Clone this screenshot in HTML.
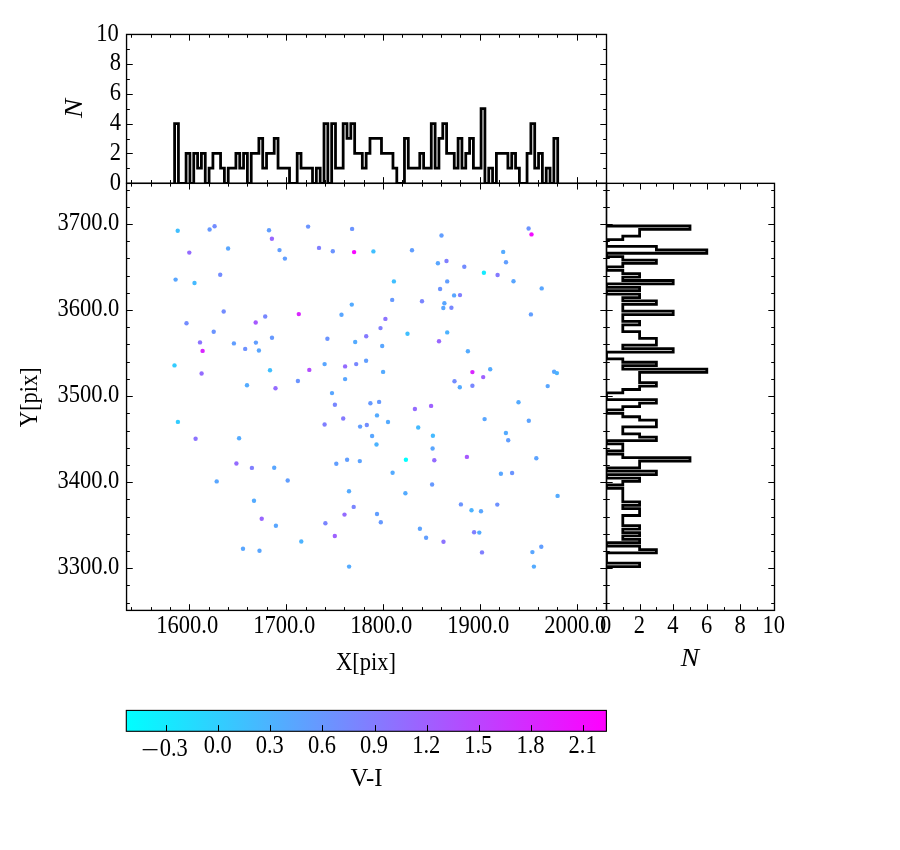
<!DOCTYPE html>
<html lang="en"><head><meta charset="utf-8"><title>Scatter with marginal histograms</title>
<style>html,body{margin:0;padding:0;background:#fff}svg{display:block}</style></head>
<body>
<svg width="900" height="850" viewBox="0 0 900 850">
<defs><linearGradient id="cool" x1="0" x2="1" y1="0" y2="0"><stop offset="0" stop-color="#00ffff"/><stop offset="1" stop-color="#ff00ff"/></linearGradient></defs>
<rect width="900" height="850" fill="#fff"/>
<clipPath id="ct"><rect x="126.55" y="34.45" width="479.95" height="148.90"/></clipPath>
<clipPath id="cr"><rect x="606.50" y="183.35" width="168.00" height="427.05"/></clipPath>
<g id="pts">
<circle cx="177.7" cy="230.8" r="2.2" fill="#40bfff"/>
<circle cx="209.6" cy="229.5" r="2.2" fill="#6699ff"/>
<circle cx="214.6" cy="226.3" r="2.2" fill="#738cff"/>
<circle cx="269.0" cy="230.2" r="2.2" fill="#619eff"/>
<circle cx="271.9" cy="238.7" r="2.2" fill="#9966ff"/>
<circle cx="189.3" cy="252.6" r="2.2" fill="#946bff"/>
<circle cx="228.1" cy="248.5" r="2.2" fill="#59a6ff"/>
<circle cx="279.5" cy="250.1" r="2.2" fill="#619eff"/>
<circle cx="284.9" cy="258.6" r="2.2" fill="#619eff"/>
<circle cx="220.2" cy="274.8" r="2.2" fill="#738cff"/>
<circle cx="175.6" cy="279.6" r="2.2" fill="#59a6ff"/>
<circle cx="194.5" cy="283.0" r="2.2" fill="#45baff"/>
<circle cx="223.7" cy="311.5" r="2.2" fill="#738cff"/>
<circle cx="265.2" cy="316.5" r="2.2" fill="#7887ff"/>
<circle cx="255.7" cy="322.5" r="2.2" fill="#a659ff"/>
<circle cx="186.5" cy="323.2" r="2.2" fill="#738cff"/>
<circle cx="213.7" cy="331.7" r="2.2" fill="#6b94ff"/>
<circle cx="308.1" cy="226.6" r="2.2" fill="#6b94ff"/>
<circle cx="352.1" cy="228.9" r="2.2" fill="#6b94ff"/>
<circle cx="319.0" cy="247.9" r="2.2" fill="#807fff"/>
<circle cx="332.8" cy="251.3" r="2.2" fill="#6b94ff"/>
<circle cx="354.1" cy="252.1" r="2.2" fill="#f708ff"/>
<circle cx="373.4" cy="251.4" r="2.2" fill="#40bfff"/>
<circle cx="412.0" cy="250.2" r="2.2" fill="#619eff"/>
<circle cx="393.9" cy="281.4" r="2.2" fill="#40bfff"/>
<circle cx="392.2" cy="299.9" r="2.2" fill="#6699ff"/>
<circle cx="422.0" cy="301.2" r="2.2" fill="#7a85ff"/>
<circle cx="351.8" cy="304.6" r="2.2" fill="#54abff"/>
<circle cx="298.8" cy="314.1" r="2.2" fill="#d926ff"/>
<circle cx="341.5" cy="314.8" r="2.2" fill="#59a6ff"/>
<circle cx="385.4" cy="318.9" r="2.2" fill="#8c73ff"/>
<circle cx="380.5" cy="328.1" r="2.2" fill="#807fff"/>
<circle cx="441.5" cy="235.5" r="2.2" fill="#619eff"/>
<circle cx="528.6" cy="228.5" r="2.2" fill="#6b94ff"/>
<circle cx="531.5" cy="234.4" r="2.2" fill="#f20dff"/>
<circle cx="503.2" cy="251.9" r="2.2" fill="#54abff"/>
<circle cx="446.5" cy="261.0" r="2.2" fill="#807fff"/>
<circle cx="437.9" cy="263.2" r="2.2" fill="#59a6ff"/>
<circle cx="464.3" cy="266.8" r="2.2" fill="#738cff"/>
<circle cx="506.0" cy="262.3" r="2.2" fill="#619eff"/>
<circle cx="483.9" cy="272.7" r="2.2" fill="#14ebff"/>
<circle cx="497.6" cy="275.0" r="2.2" fill="#857aff"/>
<circle cx="513.5" cy="281.3" r="2.2" fill="#59a6ff"/>
<circle cx="447.2" cy="281.4" r="2.2" fill="#619eff"/>
<circle cx="440.1" cy="289.0" r="2.2" fill="#6b94ff"/>
<circle cx="541.7" cy="288.4" r="2.2" fill="#59a6ff"/>
<circle cx="454.1" cy="295.4" r="2.2" fill="#59a6ff"/>
<circle cx="460.0" cy="295.1" r="2.2" fill="#807fff"/>
<circle cx="444.4" cy="303.3" r="2.2" fill="#59a6ff"/>
<circle cx="443.3" cy="308.0" r="2.2" fill="#59a6ff"/>
<circle cx="451.4" cy="307.7" r="2.2" fill="#7887ff"/>
<circle cx="530.9" cy="314.4" r="2.2" fill="#619eff"/>
<circle cx="447.2" cy="332.4" r="2.2" fill="#4cb3ff"/>
<circle cx="200.0" cy="342.4" r="2.2" fill="#8c73ff"/>
<circle cx="202.6" cy="350.9" r="2.2" fill="#d926ff"/>
<circle cx="233.9" cy="343.4" r="2.2" fill="#619eff"/>
<circle cx="245.2" cy="348.9" r="2.2" fill="#6e91ff"/>
<circle cx="255.9" cy="342.6" r="2.2" fill="#619eff"/>
<circle cx="258.9" cy="350.5" r="2.2" fill="#59a6ff"/>
<circle cx="272.0" cy="337.8" r="2.2" fill="#6699ff"/>
<circle cx="174.5" cy="365.4" r="2.2" fill="#33ccff"/>
<circle cx="201.6" cy="373.5" r="2.2" fill="#946bff"/>
<circle cx="270.0" cy="370.2" r="2.2" fill="#40bfff"/>
<circle cx="247.0" cy="385.2" r="2.2" fill="#54abff"/>
<circle cx="275.5" cy="388.2" r="2.2" fill="#946bff"/>
<circle cx="177.9" cy="421.9" r="2.2" fill="#33ccff"/>
<circle cx="195.6" cy="438.8" r="2.2" fill="#8c73ff"/>
<circle cx="239.1" cy="438.3" r="2.2" fill="#54abff"/>
<circle cx="327.4" cy="338.8" r="2.2" fill="#6b94ff"/>
<circle cx="355.2" cy="342.0" r="2.2" fill="#54abff"/>
<circle cx="366.2" cy="336.2" r="2.2" fill="#857aff"/>
<circle cx="382.2" cy="346.0" r="2.2" fill="#59a6ff"/>
<circle cx="407.5" cy="333.8" r="2.2" fill="#40bfff"/>
<circle cx="324.6" cy="364.1" r="2.2" fill="#59a6ff"/>
<circle cx="309.3" cy="369.9" r="2.2" fill="#b24dff"/>
<circle cx="345.1" cy="366.4" r="2.2" fill="#946bff"/>
<circle cx="356.2" cy="364.1" r="2.2" fill="#7887ff"/>
<circle cx="366.1" cy="360.8" r="2.2" fill="#619eff"/>
<circle cx="383.1" cy="371.9" r="2.2" fill="#54abff"/>
<circle cx="297.9" cy="381.0" r="2.2" fill="#6b94ff"/>
<circle cx="345.1" cy="379.1" r="2.2" fill="#59a6ff"/>
<circle cx="332.0" cy="393.1" r="2.2" fill="#59a6ff"/>
<circle cx="334.9" cy="404.7" r="2.2" fill="#7887ff"/>
<circle cx="370.4" cy="403.2" r="2.2" fill="#6699ff"/>
<circle cx="379.1" cy="401.9" r="2.2" fill="#6699ff"/>
<circle cx="414.9" cy="409.0" r="2.2" fill="#946bff"/>
<circle cx="377.0" cy="415.4" r="2.2" fill="#54abff"/>
<circle cx="343.2" cy="418.5" r="2.2" fill="#857aff"/>
<circle cx="324.6" cy="424.5" r="2.2" fill="#807fff"/>
<circle cx="388.0" cy="422.0" r="2.2" fill="#54abff"/>
<circle cx="360.1" cy="426.6" r="2.2" fill="#619eff"/>
<circle cx="366.8" cy="425.0" r="2.2" fill="#738cff"/>
<circle cx="418.2" cy="427.5" r="2.2" fill="#45baff"/>
<circle cx="372.1" cy="436.0" r="2.2" fill="#59a6ff"/>
<circle cx="376.5" cy="444.5" r="2.2" fill="#4cb3ff"/>
<circle cx="439.0" cy="341.3" r="2.2" fill="#9966ff"/>
<circle cx="467.9" cy="351.3" r="2.2" fill="#54abff"/>
<circle cx="472.4" cy="372.1" r="2.2" fill="#d926ff"/>
<circle cx="490.2" cy="369.3" r="2.2" fill="#54abff"/>
<circle cx="483.2" cy="377.1" r="2.2" fill="#9e61ff"/>
<circle cx="454.5" cy="381.2" r="2.2" fill="#738cff"/>
<circle cx="459.8" cy="387.2" r="2.2" fill="#54abff"/>
<circle cx="472.4" cy="385.8" r="2.2" fill="#7887ff"/>
<circle cx="554.1" cy="371.8" r="2.2" fill="#59a6ff"/>
<circle cx="556.9" cy="373.1" r="2.2" fill="#4cb3ff"/>
<circle cx="547.7" cy="386.1" r="2.2" fill="#59a6ff"/>
<circle cx="431.1" cy="405.9" r="2.2" fill="#9e61ff"/>
<circle cx="518.5" cy="402.3" r="2.2" fill="#54abff"/>
<circle cx="484.6" cy="419.1" r="2.2" fill="#59a6ff"/>
<circle cx="528.8" cy="420.8" r="2.2" fill="#5ca3ff"/>
<circle cx="432.9" cy="435.8" r="2.2" fill="#45baff"/>
<circle cx="505.9" cy="433.0" r="2.2" fill="#54abff"/>
<circle cx="508.2" cy="440.3" r="2.2" fill="#619eff"/>
<circle cx="236.4" cy="463.5" r="2.2" fill="#946bff"/>
<circle cx="251.9" cy="467.9" r="2.2" fill="#807fff"/>
<circle cx="274.2" cy="467.8" r="2.2" fill="#59a6ff"/>
<circle cx="287.7" cy="480.5" r="2.2" fill="#619eff"/>
<circle cx="216.7" cy="481.4" r="2.2" fill="#59a6ff"/>
<circle cx="254.0" cy="500.8" r="2.2" fill="#54abff"/>
<circle cx="261.7" cy="518.7" r="2.2" fill="#9966ff"/>
<circle cx="275.9" cy="525.8" r="2.2" fill="#59a6ff"/>
<circle cx="243.0" cy="548.7" r="2.2" fill="#59a6ff"/>
<circle cx="259.5" cy="550.8" r="2.2" fill="#59a6ff"/>
<circle cx="336.3" cy="463.8" r="2.2" fill="#619eff"/>
<circle cx="347.1" cy="459.8" r="2.2" fill="#619eff"/>
<circle cx="359.8" cy="461.1" r="2.2" fill="#5ca3ff"/>
<circle cx="405.9" cy="459.8" r="2.2" fill="#00ffff"/>
<circle cx="392.6" cy="472.7" r="2.2" fill="#54abff"/>
<circle cx="349.0" cy="491.3" r="2.2" fill="#54abff"/>
<circle cx="405.4" cy="493.2" r="2.2" fill="#54abff"/>
<circle cx="353.7" cy="506.9" r="2.2" fill="#7a85ff"/>
<circle cx="344.5" cy="514.6" r="2.2" fill="#946bff"/>
<circle cx="377.0" cy="514.0" r="2.2" fill="#619eff"/>
<circle cx="325.4" cy="523.3" r="2.2" fill="#7a85ff"/>
<circle cx="380.8" cy="522.2" r="2.2" fill="#6699ff"/>
<circle cx="334.8" cy="536.0" r="2.2" fill="#9e61ff"/>
<circle cx="301.3" cy="541.5" r="2.2" fill="#4cb3ff"/>
<circle cx="419.9" cy="528.8" r="2.2" fill="#5ca3ff"/>
<circle cx="349.1" cy="566.6" r="2.2" fill="#54abff"/>
<circle cx="432.6" cy="448.5" r="2.2" fill="#59a6ff"/>
<circle cx="434.3" cy="460.3" r="2.2" fill="#946bff"/>
<circle cx="466.9" cy="456.9" r="2.2" fill="#a659ff"/>
<circle cx="536.3" cy="458.2" r="2.2" fill="#5ca3ff"/>
<circle cx="500.9" cy="473.8" r="2.2" fill="#59a6ff"/>
<circle cx="512.1" cy="473.0" r="2.2" fill="#6b94ff"/>
<circle cx="432.1" cy="484.5" r="2.2" fill="#6699ff"/>
<circle cx="557.6" cy="495.9" r="2.2" fill="#54abff"/>
<circle cx="460.9" cy="504.4" r="2.2" fill="#6b94ff"/>
<circle cx="471.5" cy="510.2" r="2.2" fill="#4cb3ff"/>
<circle cx="481.0" cy="511.2" r="2.2" fill="#59a6ff"/>
<circle cx="497.3" cy="504.6" r="2.2" fill="#6e91ff"/>
<circle cx="426.1" cy="537.8" r="2.2" fill="#619eff"/>
<circle cx="443.5" cy="541.7" r="2.2" fill="#8c73ff"/>
<circle cx="474.1" cy="532.3" r="2.2" fill="#807fff"/>
<circle cx="479.3" cy="532.6" r="2.2" fill="#54abff"/>
<circle cx="482.0" cy="552.4" r="2.2" fill="#807fff"/>
<circle cx="541.3" cy="546.8" r="2.2" fill="#619eff"/>
<circle cx="532.4" cy="552.1" r="2.2" fill="#59a6ff"/>
<circle cx="533.9" cy="566.6" r="2.2" fill="#54abff"/>
</g>
<path clip-path="url(#ct)" d="M174.60 183.35V123.54H178.43V183.35H182.26V183.35H186.09V153.32H189.92V183.35H193.75V153.32H197.59V168.21H201.42V153.32H205.25V183.35H209.08V168.21H212.91V153.32H216.74V153.32H220.57V168.21H224.40V183.35H228.23V168.21H232.06V168.21H235.90V153.32H239.73V168.21H243.56V153.32H247.39V183.35H251.22V153.32H255.05V153.32H258.88V138.43H262.71V168.21H266.54V153.32H270.38V153.32H274.21V138.43H278.04V168.21H281.87V168.21H285.70V168.21H289.53V183.35H293.36V183.35H297.19V153.32H301.02V168.21H304.85V168.21H308.69V168.21H312.52V183.35H316.35V168.21H320.18V183.35H324.01V123.54H327.84V183.35H331.67V123.54H335.50V168.21H339.33V168.21H343.16V123.54H347.00V138.43H350.83V123.54H354.66V153.32H358.49V153.32H362.32V168.21H366.15V153.32H369.98V138.43H373.81V138.43H377.64V138.43H381.47V153.32H385.31V153.32H389.14V153.32H392.97V168.21H396.80V183.35H400.63V183.35H404.46V138.43H408.29V168.21H412.12V168.21H415.95V168.21H419.78V153.32H423.62V168.21H427.45V168.21H431.28V123.54H435.11V168.21H438.94V138.43H442.77V123.54H446.60V153.32H450.43V153.32H454.26V168.21H458.09V138.43H461.93V168.21H465.76V153.32H469.59V138.43H473.42V168.21H477.25V168.21H481.08V108.65H484.91V183.35H488.74V168.21H492.57V183.35H496.40V153.32H500.24V153.32H504.07V153.32H507.90V168.21H511.73V153.32H515.56V168.21H519.39V183.35H523.22V183.35H527.05V153.32H530.88V123.54H534.71V168.21H538.55V153.32H542.38V183.35H546.21V168.21H550.04V183.35H553.87V138.43H557.70V183.35" fill="none" stroke="#000" stroke-width="2.78" stroke-linejoin="miter"/>
<path clip-path="url(#cr)" d="M606.50 226.00H690.00V229.41H639.60V232.81H639.60V236.22H622.80V239.62H606.50V243.03H606.50V246.44H656.40V249.84H706.80V253.25H606.50V256.65H622.80V260.06H656.40V263.47H622.80V266.87H606.50V270.28H622.80V273.68H639.60V277.09H622.80V280.50H673.20V283.90H606.50V287.31H639.60V290.71H606.50V294.12H639.60V297.53H622.80V300.93H656.40V304.34H622.80V307.74H622.80V311.15H673.20V314.56H622.80V317.96H622.80V321.37H639.60V324.77H622.80V328.18H622.80V331.59H639.60V334.99H639.60V338.40H656.40V341.80H656.40V345.21H622.80V348.62H673.20V352.02H606.50V355.43H606.50V358.83H622.80V362.24H656.40V365.65H622.80V369.05H706.80V372.46H639.60V375.86H639.60V379.27H639.60V382.68H656.40V386.08H639.60V389.49H622.80V392.89H606.50V396.30H606.50V399.71H656.40V403.11H639.60V406.52H622.80V409.92H606.50V413.33H622.80V416.74H639.60V420.14H656.40V423.55H656.40V426.95H622.80V430.36H622.80V433.77H639.60V437.17H656.40V440.58H606.50V443.98H622.80V447.39H622.80V450.80H606.50V454.20H622.80V457.61H690.00V461.01H639.60V464.42H639.60V467.83H606.50V471.23H656.40V474.64H606.50V478.04H639.60V481.45H622.80V484.86H606.50V488.26H622.80V491.67H622.80V495.07H622.80V498.48H622.80V501.89H639.60V505.29H622.80V508.70H639.60V512.10H639.60V515.51H622.80V518.92H622.80V522.32H622.80V525.73H639.60V529.13H622.80V532.54H639.60V535.95H622.80V539.35H639.60V542.76H606.50V546.16H639.60V549.57H656.40V552.98H606.50V556.38H606.50V559.79H606.50V563.19H639.60V566.60H606.50" fill="none" stroke="#000" stroke-width="2.78" stroke-linejoin="miter"/>
<path d="M131.50 610.40V607.10M131.50 183.35V186.65M131.50 183.35V180.05M131.50 34.45V37.75M151.50 610.40V607.10M151.50 183.35V186.65M151.50 183.35V180.05M151.50 34.45V37.75M170.50 610.40V607.10M170.50 183.35V186.65M170.50 183.35V180.05M170.50 34.45V37.75M189.50 610.40V604.20M189.50 183.35V189.55M189.50 183.35V177.15M189.50 34.45V40.65M209.50 610.40V607.10M209.50 183.35V186.65M209.50 183.35V180.05M209.50 34.45V37.75M228.50 610.40V607.10M228.50 183.35V186.65M228.50 183.35V180.05M228.50 34.45V37.75M247.50 610.40V607.10M247.50 183.35V186.65M247.50 183.35V180.05M247.50 34.45V37.75M267.50 610.40V607.10M267.50 183.35V186.65M267.50 183.35V180.05M267.50 34.45V37.75M286.50 610.40V604.20M286.50 183.35V189.55M286.50 183.35V177.15M286.50 34.45V40.65M306.50 610.40V607.10M306.50 183.35V186.65M306.50 183.35V180.05M306.50 34.45V37.75M325.50 610.40V607.10M325.50 183.35V186.65M325.50 183.35V180.05M325.50 34.45V37.75M344.50 610.40V607.10M344.50 183.35V186.65M344.50 183.35V180.05M344.50 34.45V37.75M364.50 610.40V607.10M364.50 183.35V186.65M364.50 183.35V180.05M364.50 34.45V37.75M383.50 610.40V604.20M383.50 183.35V189.55M383.50 183.35V177.15M383.50 34.45V40.65M402.50 610.40V607.10M402.50 183.35V186.65M402.50 183.35V180.05M402.50 34.45V37.75M422.50 610.40V607.10M422.50 183.35V186.65M422.50 183.35V180.05M422.50 34.45V37.75M441.50 610.40V607.10M441.50 183.35V186.65M441.50 183.35V180.05M441.50 34.45V37.75M460.50 610.40V607.10M460.50 183.35V186.65M460.50 183.35V180.05M460.50 34.45V37.75M480.50 610.40V604.20M480.50 183.35V189.55M480.50 183.35V177.15M480.50 34.45V40.65M499.50 610.40V607.10M499.50 183.35V186.65M499.50 183.35V180.05M499.50 34.45V37.75M519.50 610.40V607.10M519.50 183.35V186.65M519.50 183.35V180.05M519.50 34.45V37.75M538.50 610.40V607.10M538.50 183.35V186.65M538.50 183.35V180.05M538.50 34.45V37.75M557.50 610.40V607.10M557.50 183.35V186.65M557.50 183.35V180.05M557.50 34.45V37.75M577.50 610.40V604.20M577.50 183.35V189.55M577.50 183.35V177.15M577.50 34.45V40.65M596.50 610.40V607.10M596.50 183.35V186.65M596.50 183.35V180.05M596.50 34.45V37.75M126.55 603.50H129.85M606.50 603.50H603.20M606.50 603.50H609.80M774.50 603.50H771.20M126.55 585.50H129.85M606.50 585.50H603.20M606.50 585.50H609.80M774.50 585.50H771.20M126.55 568.50H132.75M606.50 568.50H600.30M606.50 568.50H612.70M774.50 568.50H768.30M126.55 551.50H129.85M606.50 551.50H603.20M606.50 551.50H609.80M774.50 551.50H771.20M126.55 534.50H129.85M606.50 534.50H603.20M606.50 534.50H609.80M774.50 534.50H771.20M126.55 517.50H129.85M606.50 517.50H603.20M606.50 517.50H609.80M774.50 517.50H771.20M126.55 499.50H129.85M606.50 499.50H603.20M606.50 499.50H609.80M774.50 499.50H771.20M126.55 482.50H132.75M606.50 482.50H600.30M606.50 482.50H612.70M774.50 482.50H768.30M126.55 465.50H129.85M606.50 465.50H603.20M606.50 465.50H609.80M774.50 465.50H771.20M126.55 448.50H129.85M606.50 448.50H603.20M606.50 448.50H609.80M774.50 448.50H771.20M126.55 431.50H129.85M606.50 431.50H603.20M606.50 431.50H609.80M774.50 431.50H771.20M126.55 413.50H129.85M606.50 413.50H603.20M606.50 413.50H609.80M774.50 413.50H771.20M126.55 396.50H132.75M606.50 396.50H600.30M606.50 396.50H612.70M774.50 396.50H768.30M126.55 379.50H129.85M606.50 379.50H603.20M606.50 379.50H609.80M774.50 379.50H771.20M126.55 362.50H129.85M606.50 362.50H603.20M606.50 362.50H609.80M774.50 362.50H771.20M126.55 344.50H129.85M606.50 344.50H603.20M606.50 344.50H609.80M774.50 344.50H771.20M126.55 327.50H129.85M606.50 327.50H603.20M606.50 327.50H609.80M774.50 327.50H771.20M126.55 310.50H132.75M606.50 310.50H600.30M606.50 310.50H612.70M774.50 310.50H768.30M126.55 293.50H129.85M606.50 293.50H603.20M606.50 293.50H609.80M774.50 293.50H771.20M126.55 276.50H129.85M606.50 276.50H603.20M606.50 276.50H609.80M774.50 276.50H771.20M126.55 258.50H129.85M606.50 258.50H603.20M606.50 258.50H609.80M774.50 258.50H771.20M126.55 241.50H129.85M606.50 241.50H603.20M606.50 241.50H609.80M774.50 241.50H771.20M126.55 224.50H132.75M606.50 224.50H600.30M606.50 224.50H612.70M774.50 224.50H768.30M126.55 207.50H129.85M606.50 207.50H603.20M606.50 207.50H609.80M774.50 207.50H771.20M126.55 190.50H129.85M606.50 190.50H603.20M606.50 190.50H609.80M774.50 190.50H771.20M126.55 168.50H129.85M606.50 168.50H603.20M126.55 153.50H132.75M606.50 153.50H600.30M126.55 139.50H129.85M606.50 139.50H603.20M126.55 124.50H132.75M606.50 124.50H600.30M126.55 109.50H129.85M606.50 109.50H603.20M126.55 94.50H132.75M606.50 94.50H600.30M126.55 79.50H129.85M606.50 79.50H603.20M126.55 64.50H132.75M606.50 64.50H600.30M126.55 49.50H129.85M606.50 49.50H603.20M623.50 610.40V607.10M623.50 183.35V186.65M640.50 610.40V604.20M640.50 183.35V189.55M656.50 610.40V607.10M656.50 183.35V186.65M673.50 610.40V604.20M673.50 183.35V189.55M690.50 610.40V607.10M690.50 183.35V186.65M707.50 610.40V604.20M707.50 183.35V189.55M724.50 610.40V607.10M724.50 183.35V186.65M740.50 610.40V604.20M740.50 183.35V189.55M757.50 610.40V607.10M757.50 183.35V186.65" stroke="#000" stroke-width="1" fill="none"/>
<g fill="none" stroke="#000" stroke-width="1.35">
<rect x="126.55" y="34.45" width="479.95" height="148.90"/>
<rect x="126.55" y="183.35" width="479.95" height="427.05"/>
<rect x="606.50" y="183.35" width="168.00" height="427.05"/>
</g>
<rect x="126.30" y="710.40" width="480.10" height="20.90" fill="url(#cool)" stroke="#000" stroke-width="1.1"/>
<path d="M166.50 731.30V725.10M218.50 731.30V725.10M270.50 731.30V725.10M322.50 731.30V725.10M375.50 731.30V725.10M427.50 731.30V725.10M479.50 731.30V725.10M531.50 731.30V725.10M583.50 731.30V725.10" stroke="#000" stroke-width="1" fill="none"/>
<g font-family="'Liberation Serif', serif" font-size="25.0" fill="#000">
<text transform="translate(119.30,574.18) scale(0.900,1)" text-anchor="end">3300.0</text>
<text transform="translate(119.30,488.14) scale(0.900,1)" text-anchor="end">3400.0</text>
<text transform="translate(119.30,402.10) scale(0.900,1)" text-anchor="end">3500.0</text>
<text transform="translate(119.30,316.06) scale(0.900,1)" text-anchor="end">3600.0</text>
<text transform="translate(119.30,230.02) scale(0.900,1)" text-anchor="end">3700.0</text>
<text transform="translate(187.20,632.90) scale(0.900,1)" text-anchor="middle">1600.0</text>
<text transform="translate(284.20,632.90) scale(0.900,1)" text-anchor="middle">1700.0</text>
<text transform="translate(381.20,632.90) scale(0.900,1)" text-anchor="middle">1800.0</text>
<text transform="translate(478.20,632.90) scale(0.900,1)" text-anchor="middle">1900.0</text>
<text transform="translate(575.20,632.90) scale(0.900,1)" text-anchor="middle">2000.0</text>
<text transform="translate(121.00,189.55) scale(0.900,1)" text-anchor="end">0</text>
<text transform="translate(121.00,159.77) scale(0.900,1)" text-anchor="end">2</text>
<text transform="translate(121.00,129.99) scale(0.900,1)" text-anchor="end">4</text>
<text transform="translate(121.00,100.21) scale(0.900,1)" text-anchor="end">6</text>
<text transform="translate(121.00,70.43) scale(0.900,1)" text-anchor="end">8</text>
<text transform="translate(118.80,40.65) scale(0.900,1)" text-anchor="end">10</text>
<text transform="translate(605.70,632.90) scale(0.900,1)" text-anchor="middle">0</text>
<text transform="translate(639.30,632.90) scale(0.900,1)" text-anchor="middle">2</text>
<text transform="translate(672.90,632.90) scale(0.900,1)" text-anchor="middle">4</text>
<text transform="translate(706.50,632.90) scale(0.900,1)" text-anchor="middle">6</text>
<text transform="translate(740.10,632.90) scale(0.900,1)" text-anchor="middle">8</text>
<text transform="translate(773.70,632.90) scale(0.900,1)" text-anchor="middle">10</text>
<text transform="translate(158.97,757.60) scale(1.280,1)" text-anchor="end">−</text>
<text transform="translate(159.67,755.60) scale(0.900,1)" text-anchor="start">0.3</text>
<text transform="translate(217.70,753.40) scale(0.900,1)" text-anchor="middle">0.0</text>
<text transform="translate(269.82,753.40) scale(0.900,1)" text-anchor="middle">0.3</text>
<text transform="translate(321.95,753.40) scale(0.900,1)" text-anchor="middle">0.6</text>
<text transform="translate(374.07,753.40) scale(0.900,1)" text-anchor="middle">0.9</text>
<text transform="translate(426.20,753.40) scale(0.900,1)" text-anchor="middle">1.2</text>
<text transform="translate(478.32,753.40) scale(0.900,1)" text-anchor="middle">1.5</text>
<text transform="translate(530.45,753.40) scale(0.900,1)" text-anchor="middle">1.8</text>
<text transform="translate(582.58,753.40) scale(0.900,1)" text-anchor="middle">2.1</text>
<text transform="translate(366.00,669.80) scale(0.900,1)" text-anchor="middle">X[pix]</text>
<text transform="translate(366.50,786.00) scale(0.990,1)" text-anchor="middle">V-I</text>
<text transform="translate(37.00,397.20) rotate(-90) scale(0.900,1)" text-anchor="middle">Y[pix]</text>
<text transform="translate(689.90,665.50) scale(1.100,1)" text-anchor="middle" font-style="italic">N</text>
<text transform="translate(82.00,108.40) rotate(-90) scale(1.150,1)" text-anchor="middle" font-style="italic">N</text>
</g>
</svg>
</body></html>
